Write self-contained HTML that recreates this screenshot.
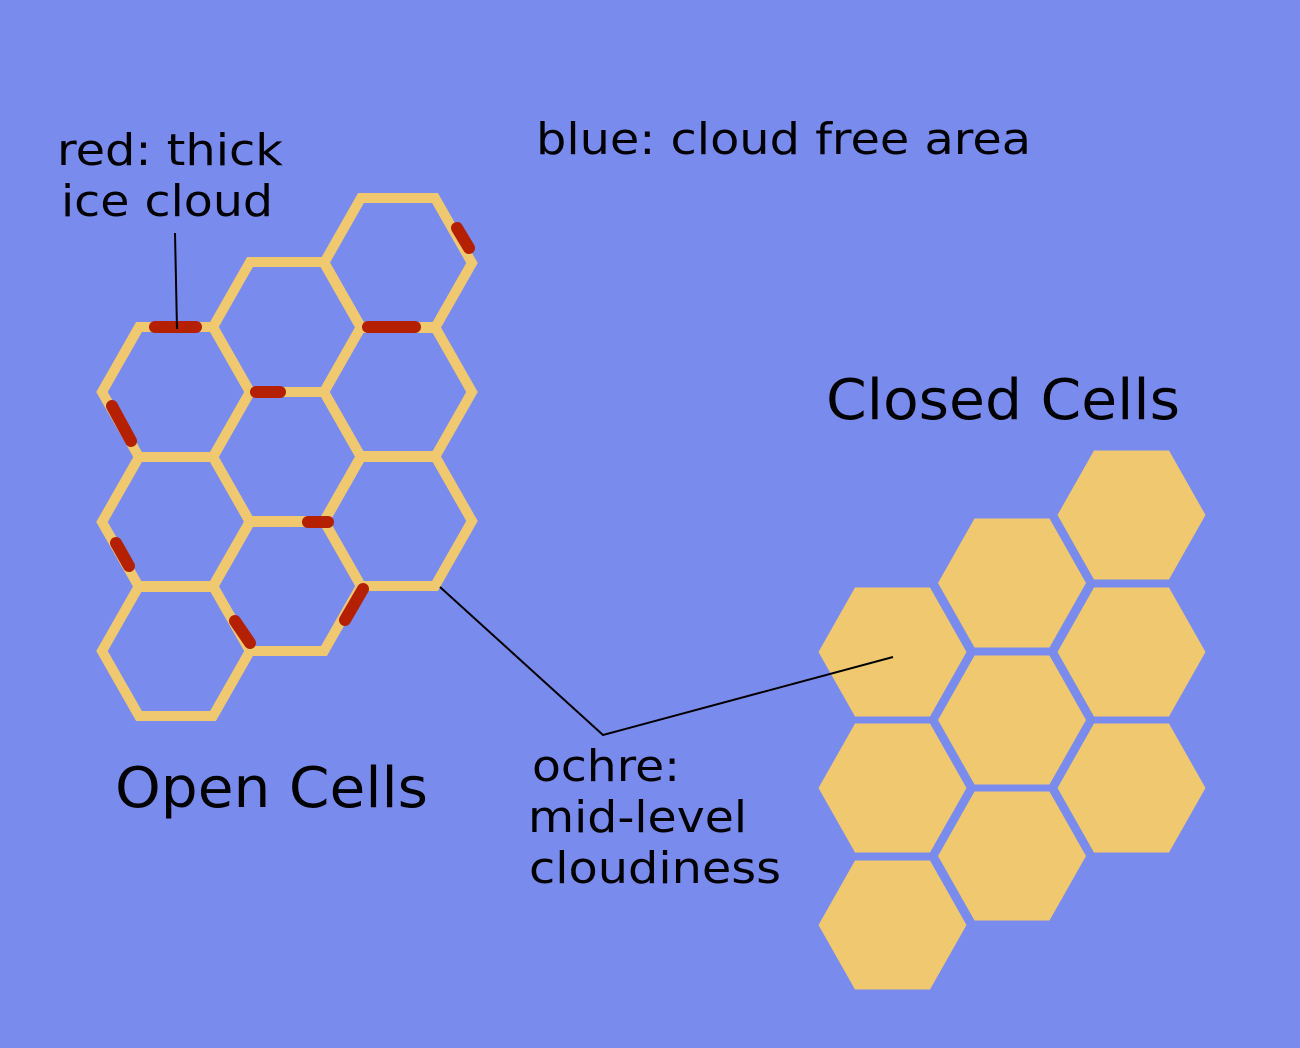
<!DOCTYPE html>
<html><head><meta charset="utf-8"><style>
html,body{margin:0;padding:0;background:#7a8bee;}
svg{display:block;}
text{font-family:"DejaVu Sans","Liberation Sans",sans-serif;fill:#000;}
</style></head><body>
<svg width="1300" height="1048" viewBox="0 0 1300 1048" xmlns="http://www.w3.org/2000/svg">
<rect width="1300" height="1048" fill="#7a8bee"/>
<defs>
<polygon id="oh" points="-74,0 -37,-65 37,-65 74,0 37,65 -37,65"/>
<polygon id="ch" points="-74,0 -37.5,-64.5 37.5,-64.5 74,0 37.5,64.5 -37.5,64.5"/>
</defs>
<g fill="none" stroke="#efc870" stroke-width="10" stroke-linejoin="miter">
<use href="#oh" x="176" y="392"/>
<use href="#oh" x="176" y="522"/>
<use href="#oh" x="176" y="651"/>
<use href="#oh" x="287" y="327"/>
<use href="#oh" x="287" y="457"/>
<use href="#oh" x="287" y="586"/>
<use href="#oh" x="398" y="263"/>
<use href="#oh" x="398" y="392"/>
<use href="#oh" x="398" y="521"/>
</g>
<g stroke="#b52000" stroke-width="12" stroke-linecap="round">
<line x1="155" y1="327" x2="196" y2="327"/>
<line x1="112" y1="406" x2="131" y2="441"/>
<line x1="116" y1="543" x2="129" y2="566"/>
<line x1="256" y1="392" x2="280" y2="392"/>
<line x1="457" y1="228" x2="469" y2="248"/>
<line x1="368" y1="327" x2="415" y2="327"/>
<line x1="308" y1="522" x2="328" y2="522"/>
<line x1="363" y1="589" x2="345" y2="620"/>
<line x1="235" y1="621" x2="250" y2="643"/>
</g>
<g fill="#efc870">
<use href="#ch" x="892.5" y="652"/>
<use href="#ch" x="892.5" y="788"/>
<use href="#ch" x="892.5" y="925"/>
<use href="#ch" x="1012" y="583"/>
<use href="#ch" x="1012" y="720"/>
<use href="#ch" x="1012" y="856"/>
<use href="#ch" x="1131.5" y="515"/>
<use href="#ch" x="1131.5" y="652"/>
<use href="#ch" x="1131.5" y="788"/>
</g>
<g stroke="#000" stroke-width="2" fill="none">
<line x1="175" y1="233" x2="177" y2="329"/>
<polyline points="440,587 603,735 893,657"/>
</g>
<text x="57" y="165" font-size="44" textLength="226" lengthAdjust="spacingAndGlyphs">red: thick</text>
<text x="61" y="216" font-size="44" textLength="212" lengthAdjust="spacingAndGlyphs">ice cloud</text>
<text x="536" y="154" font-size="44" textLength="495" lengthAdjust="spacingAndGlyphs">blue: cloud free area</text>
<text x="826" y="419" font-size="56" textLength="354" lengthAdjust="spacingAndGlyphs">Closed Cells</text>
<text x="115" y="807" font-size="56" textLength="313" lengthAdjust="spacingAndGlyphs">Open Cells</text>
<text x="532" y="781" font-size="44" textLength="148" lengthAdjust="spacingAndGlyphs">ochre:</text>
<text x="528" y="832" font-size="44" textLength="219" lengthAdjust="spacingAndGlyphs">mid-level</text>
<text x="529" y="883" font-size="44" textLength="252" lengthAdjust="spacingAndGlyphs">cloudiness</text>
</svg>
</body></html>
